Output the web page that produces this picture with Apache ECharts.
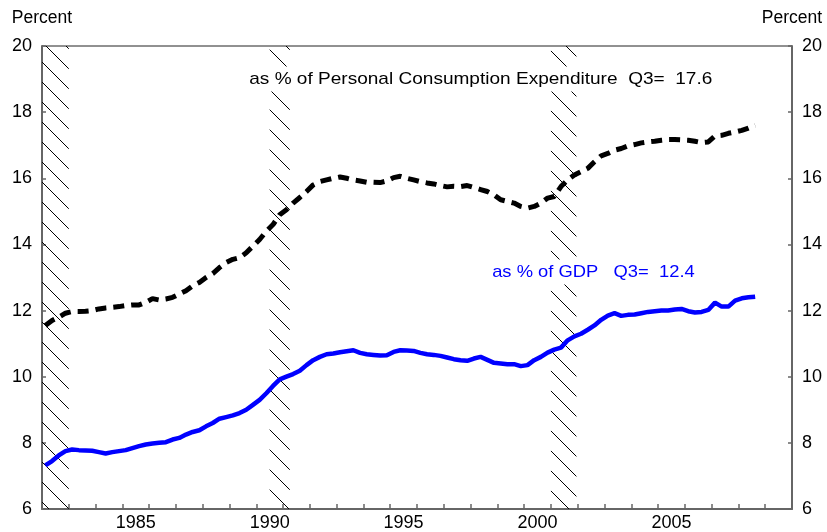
<!DOCTYPE html>
<html><head><meta charset="utf-8">
<script src="https://cdn.jsdelivr.net/npm/echarts@6/dist/echarts.min.js"></script>
<style>html,body{margin:0;padding:0;background:#fff}#c{width:827px;height:532px}</style>
</head><body><div id="c"></div>
<script>
// Quarterly data, 1982Q1 .. 2008Q3
const startYear = 1982;
const pceShare = [
  11.55, 11.70, 11.80, 11.92,
  11.97, 11.97, 11.98, 12.00,
  12.05, 12.08, 12.10, 12.12,
  12.15, 12.17, 12.17, 12.25,
  12.36, 12.32, 12.35, 12.40,
  12.50, 12.60, 12.75, 12.85,
  13.00, 13.12, 13.30, 13.45,
  13.55, 13.60, 13.75, 13.95,
  14.15, 14.40, 14.60, 14.90,
  15.05, 15.25, 15.42, 15.60,
  15.80, 15.90, 15.95, 16.00,
  16.04, 16.00, 15.95, 15.92,
  15.88, 15.88, 15.87, 15.92,
  16.02, 16.06, 16.00, 15.95,
  15.90, 15.86, 15.83, 15.78,
  15.74, 15.76, 15.75, 15.78,
  15.72, 15.66, 15.60, 15.50,
  15.35, 15.30, 15.25, 15.15,
  15.10, 15.15, 15.25, 15.40,
  15.45, 15.75, 15.95, 16.10,
  16.20, 16.30, 16.50, 16.68,
  16.75, 16.85, 16.90, 16.98,
  17.02, 17.07, 17.10, 17.12,
  17.15, 17.17, 17.17, 17.16,
  17.15, 17.12, 17.08, 17.10,
  17.28, 17.30, 17.36, 17.40,
  17.45, 17.52, 17.60
];
const gdpShare = [
  7.32, 7.45, 7.62, 7.75,
  7.80, 7.78, 7.77, 7.76,
  7.72, 7.68, 7.72, 7.75,
  7.78, 7.84, 7.90, 7.95,
  7.98, 8.00, 8.02, 8.10,
  8.15, 8.25, 8.33, 8.38,
  8.50, 8.60, 8.73, 8.78,
  8.83, 8.90, 9.00, 9.15,
  9.30, 9.50, 9.72, 9.92,
  10.00, 10.08, 10.18, 10.35,
  10.50, 10.60, 10.68, 10.70,
  10.74, 10.77, 10.80, 10.72,
  10.68, 10.66, 10.64, 10.65,
  10.75, 10.80, 10.79, 10.78,
  10.72, 10.68, 10.66, 10.63,
  10.58, 10.53, 10.50, 10.48,
  10.55, 10.60, 10.51, 10.42,
  10.40, 10.38, 10.38, 10.32,
  10.35, 10.50, 10.60, 10.73,
  10.82, 10.88, 11.10, 11.22,
  11.30, 11.42, 11.55, 11.72,
  11.85, 11.92, 11.84, 11.87,
  11.88, 11.92, 11.96, 11.98,
  12.00, 12.00, 12.03, 12.05,
  11.98, 11.94, 11.96, 12.02,
  12.24, 12.12, 12.12, 12.30,
  12.37, 12.40, 12.42
];
const recessions = [[1982.0, 1983.0], [1990.5, 1991.25], [2001.0, 2001.95]];
const xLabels = ['1985', '1990', '1995', '2000', '2005'];
const yLabels = ['6', '8', '10', '12', '14', '16', '18', '20'];
const pceText = 'as % of Personal Consumption Expenditure  Q3=  17.6';
const gdpText = 'as % of GDP   Q3=  12.4';
const unitText = 'Percent';

const FONT = '"Liberation Sans", Arial, sans-serif';
const xOf = i => startYear + 0.125 + 0.25 * i;
const pceData = pceShare.map((v, i) => [xOf(i), v]);
const gdpData = gdpShare.map((v, i) => [xOf(i), v]);

function hatch() {
  const s = 20, c = document.createElement('canvas');
  c.width = s; c.height = s;
  const g = c.getContext('2d');
  g.strokeStyle = '#000'; g.lineWidth = 1;
  g.beginPath();
  g.moveTo(-2, -2); g.lineTo(s + 2, s + 2);
  g.moveTo(s - 2, -2); g.lineTo(s + 2, 2);
  g.moveTo(-2, s - 2); g.lineTo(2, s + 2);
  g.stroke();
  return c;
}

const axisGray = '#666';
const yAxisBase = {
  type: 'value', min: 6, max: 20, interval: 2,
  name: unitText, nameLocation: 'end', nameGap: 19,
  nameTextStyle: { fontFamily: FONT, fontSize: 17.5, color: '#000', align: 'center' },
  axisLine: { show: true, lineStyle: { color: axisGray, width: 2 } },
  axisTick: { show: true, inside: true, length: 4, lineStyle: { color: axisGray, width: 1.5 } },
  splitLine: { show: false },
  axisLabel: { fontFamily: FONT, fontSize: 18, color: '#000', margin: 10,
    formatter: v => yLabels.includes(String(v)) ? String(v) : '' }
};

const chart = echarts.init(document.getElementById('c'));
chart.setOption({
  animation: false,
  backgroundColor: '#fff',
  grid: { left: 42, right: 35, top: 46, bottom: 23, outerBoundsMode: 'none',
    show: true, borderColor: '#222', borderWidth: 1, backgroundColor: 'transparent' },
  xAxis: [
    { type: 'value', min: 1982, max: 2010, interval: 1, position: 'bottom',
      axisLine: { show: true, onZero: false, lineStyle: { color: axisGray, width: 2 } },
      axisTick: { show: true, inside: true, length: 5, lineStyle: { color: axisGray, width: 1.5 } },
      axisLabel: { show: false }, splitLine: { show: false } },
    { type: 'value', min: 1982, max: 2010, interval: 0.5, position: 'bottom',
      axisLine: { show: false }, axisTick: { show: false }, splitLine: { show: false },
      axisLabel: { show: true, fontFamily: FONT, fontSize: 18, color: '#000', margin: 5,
        formatter: v => { const y = String(Math.round(v - 0.5)); return (Math.abs(v - 0.5 - Math.round(v - 0.5)) < 1e-6 && xLabels.includes(y)) ? y : ''; } } }
  ],
  yAxis: [
    Object.assign({}, yAxisBase, { position: 'left' }),
    Object.assign({}, yAxisBase, { position: 'right' })
  ],
  series: [
    { type: 'line', data: [], xAxisIndex: 0, yAxisIndex: 0, z: 1, silent: true,
      markArea: { silent: true, itemStyle: { color: { image: hatch(), repeat: 'repeat' }, borderWidth: 0 },
        data: recessions.map(r => [{ xAxis: r[0] }, { xAxis: r[1] }]) } },
    { type: 'line', data: pceData, xAxisIndex: 0, yAxisIndex: 0, z: 3, showSymbol: false,
      lineStyle: { color: '#000', width: 5, type: [11, 7] } },
    { type: 'line', data: gdpData, xAxisIndex: 0, yAxisIndex: 0, z: 4, showSymbol: false,
      lineStyle: { color: '#0000ff', width: 4.5 } }
  ],
  graphic: [
    { type: 'text', x: 247, y: 79, scaleX: 1.12, z: 100,
      style: { text: pceText, font: '17px ' + FONT, fill: '#000', verticalAlign: 'middle',
        backgroundColor: '#fff', padding: [4, 2] } },
    { type: 'text', x: 490, y: 272, scaleX: 1.08, z: 100,
      style: { text: gdpText, font: '17px ' + FONT, fill: '#0000ff', verticalAlign: 'middle',
        backgroundColor: '#fff', padding: [4, 2] } }
  ]
});
</script></body></html>
